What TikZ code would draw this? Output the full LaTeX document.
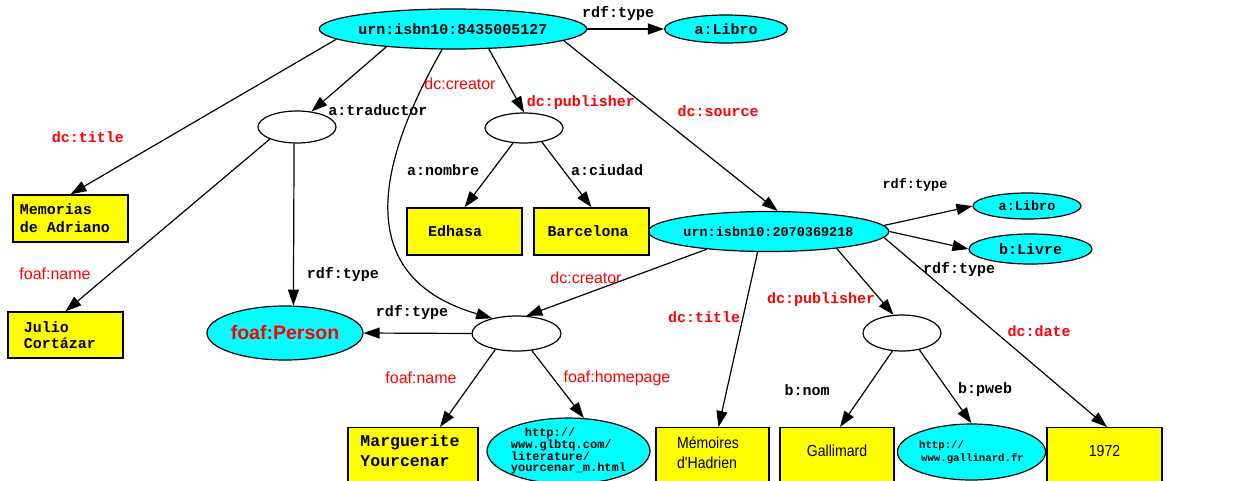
\documentclass[tikz,border=0pt]{standalone}
\usepackage{fontspec}
\setmainfont{Liberation Sans}
\setmonofont{Liberation Mono}
\newfontfamily\narrowsans[FakeStretch=0.88]{Liberation Sans}
\usetikzlibrary{shapes.geometric,arrows.meta}
\definecolor{cy}{RGB}{0,255,255}
\definecolor{yl}{RGB}{255,255,0}
\definecolor{rd}{RGB}{255,0,0}
\tikzset{
  mono/.style={font=\fontsize{15}{18}\selectfont\ttfamily\bfseries},
  monosm/.style={font=\fontsize{13.5}{16}\selectfont\ttfamily\bfseries},
  sans/.style={font=\fontsize{16}{20}\selectfont\narrowsans},
  lit/.style={draw, line width=1.4pt, fill=yl, inner sep=0pt},
  littext/.style={inner sep=0pt, align=left, mono},
  res/.style={ellipse, draw, line width=1.2pt, fill=cy, inner sep=0pt, mono},
  blank/.style={ellipse, draw, line width=1.2pt, fill=white, inner sep=0pt},
  arr/.style={-{Triangle[length=16pt,width=11pt]}, line width=1.2pt},
  lbl/.style={mono, text=black, inner sep=0pt},
  rlbl/.style={mono, text=rd, inner sep=0pt},
  slbl/.style={font=\fontsize{16}{19}\selectfont, text=rd, inner sep=0pt}
}
\begin{document}
\begin{tikzpicture}[x=1pt,y=-1pt]
\fill[white] (0,0) rectangle (1233,480);
\useasboundingbox (0,0) rectangle (1233,480);

% resource and blank nodes
\node[res, minimum width=246pt, minimum height=40pt] (U1) at (453,29) {urn:isbn10:8435005127};
\node[res, minimum width=123pt, minimum height=28pt] (aL1) at (726,29) {a:Libro};
\node[blank, minimum width=78pt, minimum height=32pt] (trad) at (297,127) {};
\node[blank, minimum width=78pt, minimum height=30pt] (pub) at (524,128) {};
\node[ellipse, draw, fill=cy, line width=1.2pt, minimum width=156pt, minimum height=54pt, inner sep=0pt, text=rd, font=\fontsize{19.5}{22}\selectfont\bfseries] (person) at (285,333) {foaf:Person};
\node[res, monosm, minimum width=219pt, minimum height=40pt] (U2) at (768.5,231.5) {urn:isbn10:2070369218};
\node[res, monosm, minimum width=108pt, minimum height=26pt] (aL2) at (1027,206) {a:Libro};
\node[res, minimum width=123pt, minimum height=30pt] (bl) at (1030.5,249) {b:Livre};
\node[blank, minimum width=89pt, minimum height=35pt] (cre) at (516.5,333.5) {};
\node[blank, minimum width=78pt, minimum height=36pt] (pub2) at (902,333) {};
\node[res, font=\fontsize{12}{11}\selectfont\ttfamily\bfseries, align=left, minimum width=157pt, minimum height=58pt] (glb) at (568.5,451) {\hspace*{14pt}http://\\www.glbtq.com/\\literature/\\yourcenar\_m.html};
\node[res, font=\fontsize{10.7}{13}\selectfont\ttfamily\bfseries, align=left, minimum width=137pt, minimum height=56pt] (gln) at (971.5,452) {http://\\\hspace*{2pt}www.gallinard.fr};

% literal boxes
\node[lit, minimum width=115pt, minimum height=47pt] (mem) at (70.5,218.5) {};
\node[lit, minimum width=115pt, minimum height=46pt] (julio) at (65.5,335) {};
\node[lit, minimum width=115pt, minimum height=47pt] (edh) at (464.5,231.5) {};
\node[lit, minimum width=115pt, minimum height=47pt] (bar) at (591.5,231.5) {};
\node[lit, anchor=north, minimum width=130pt, minimum height=64pt] (marg) at (413,427) {};
\node[lit, anchor=north, minimum width=113pt, minimum height=64pt] (memh) at (712.5,427) {};
\node[lit, anchor=north, minimum width=114pt, minimum height=64pt] (gall) at (837,427) {};
\node[lit, anchor=north, minimum width=115pt, minimum height=64pt] (y1972) at (1104.5,427) {};

% literal texts
\node[littext] (memT) at (65,218) {Memorias\\de Adriano};
\node[littext, font=\fontsize{15}{16}\selectfont\ttfamily\bfseries] (julioT) at (60,335) {Julio\\Cortázar};
\node[littext] (edhT) at (455,231.5) {Edhasa};
\node[littext] (barT) at (588,231.5) {Barcelona};
\node[littext, font=\fontsize{16.5}{20}\selectfont\ttfamily\bfseries] (margT) at (410,451) {Marguerite\\Yourcenar};
\node[littext, sans] (memhT) at (708,453) {Mémoires\\d'Hadrien};
\node[littext, sans] (gallT) at (837,451) {Gallimard};
\node[littext, sans] (y1972T) at (1104.5,451) {1972};

% edges
\draw[arr] (U1.east) -- (aL1.west);
\draw[arr] (U1.195) -- (trad.47);
\draw[arr] (U1.185) -- (mem.north);
\draw[arr] (U1.242) .. controls (362,190) and (368,282) .. (cre.148);
\draw[arr] (U1.331) -- (pub.north);
\draw[arr] (U1.354) -- (U2.66);
\draw[arr] (trad.204) -- (julio.north);
\draw[arr] (trad.260) -- (person.73);
\draw[arr] (pub.234) -- (edh.north);
\draw[arr] (pub.322) -- (bar.north);
\draw[arr] (U2.3) -- (aL2.west);
\draw[arr] (U2.east) -- (bl.west);
\draw[arr] (U2.196) -- (cre.61);
\draw[arr] (U2.242) -- ([xshift=6pt]memh.north);
\draw[arr] (U2.346) -- (pub2.115);
\draw[arr] (U2.357) -- ([xshift=2.5pt]y1972.north);
\draw[arr] (pub2.242) -- ([xshift=3pt]gall.north);
\draw[arr] (pub2.316) -- (gln.north);
\draw[arr] (cre.west) -- (person.east);
\draw[arr] (cre.217) -- ([xshift=27pt]marg.north);
\draw[arr] (cre.312) -- (glb.65);

% labels
\node[lbl] (l1) at (618,14) {rdf:type};
\node[lbl] (l2) at (378,110) {a:traductor};
\node[rlbl] (l3) at (88,137) {dc:title};
\node[slbl] (l4) at (460,84) {dc:creator};
\node[rlbl] (l5) at (581,103) {dc:publisher};
\node[rlbl] (l6) at (718,111) {dc:source};
\node[slbl] (l7) at (55,274) {foaf:name};
\node[lbl] (l8) at (343,275) {rdf:type};
\node[lbl] (l9) at (412,313) {rdf:type};
\node[lbl] (l10) at (443,170) {a:nombre};
\node[lbl] (l11) at (607,170) {a:ciudad};
\node[lbl, monosm] (l12) at (915,185) {rdf:type};
\node[lbl] (l13) at (959,270) {rdf:type};
\node[slbl] (l14) at (586,278) {dc:creator};
\node[rlbl] (l15) at (704,317) {dc:title};
\node[rlbl] (l16) at (821,300) {dc:publisher};
\node[rlbl] (l17) at (1039,331) {dc:date};
\node[slbl] (l18) at (421,378) {foaf:name};
\node[slbl] (l19) at (617,378) {foaf:homepage};
\node[lbl] (l20) at (807,390) {b:nom};
\node[lbl] (l21) at (985,390) {b:pweb};
\end{tikzpicture}
\end{document}
